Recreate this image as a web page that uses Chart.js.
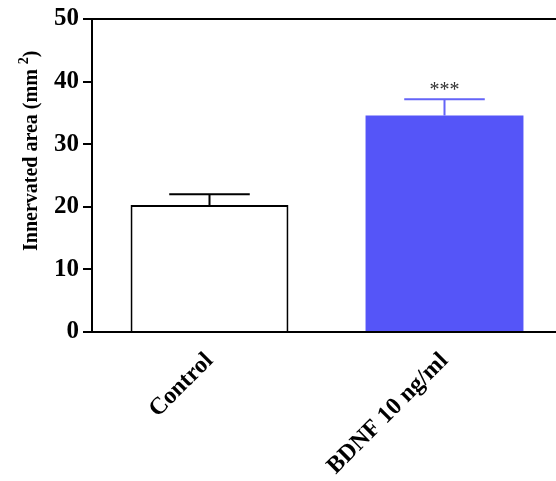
<!DOCTYPE html>
<html>
<head>
<meta charset="utf-8">
<script src="https://cdn.jsdelivr.net/npm/chart.js@4"></script>
<style>
  html, body { margin: 0; padding: 0; background: #fff; overflow: hidden; }
  #wrap { width: 570px; height: 481px; }
</style>
</head>
<body>
<div id="wrap"><canvas id="areaChart"></canvas></div>
<script>
// data
const groups = ["Control", "BDNF 10 ng/ml"];
const meanArea = [20.3, 34.6];
const semArea = [1.7, 2.6];
const marks = ["", "***"];
const yTicks = [0, 10, 20, 30, 40, 50];

const serif = "'Liberation Serif', 'Times New Roman', serif";

// error bars, top line, stars, axis title
const extras = {
  id: "extras",
  afterDatasetsDraw(chart) {
    const ctx = chart.ctx;
    const y = chart.scales.y;
    const area = chart.chartArea;
    const meta = chart.getDatasetMeta(0);
    const capColors = ["#000000", "#6464f8"];

    meta.data.forEach((bar, i) => {
      const cx = bar.x;
      const yTop = y.getPixelForValue(meanArea[i] + semArea[i]);
      const yMean = y.getPixelForValue(meanArea[i]);
      const half = bar.width * 0.255;
      ctx.save();
      ctx.strokeStyle = capColors[i];
      ctx.lineWidth = 2;
      ctx.beginPath();
      ctx.moveTo(cx, yMean);
      ctx.lineTo(cx, yTop);
      ctx.moveTo(cx - half, yTop);
      ctx.lineTo(cx + half, yTop);
      ctx.stroke();
      if (marks[i]) {
        ctx.fillStyle = "#333";
        ctx.font = "20px " + serif;
        ctx.textAlign = "center";
        ctx.textBaseline = "alphabetic";
        ctx.fillText(marks[i], cx, yTop - 3);
      }
      ctx.restore();
    });

    // top frame line
    ctx.save();
    ctx.strokeStyle = "#000";
    ctx.lineWidth = 2;
    ctx.beginPath();
    ctx.moveTo(area.left, y.getPixelForValue(50));
    ctx.lineTo(area.right, y.getPixelForValue(50));
    ctx.stroke();
    ctx.restore();

    // y title with superscript
    ctx.save();
    ctx.translate(37, 251);
    ctx.rotate(-Math.PI / 2);
    ctx.fillStyle = "#000";
    ctx.textAlign = "left";
    ctx.textBaseline = "alphabetic";
    ctx.font = "bold 20px " + serif;
    const main = "Innervated area (mm ";
    ctx.fillText(main, 0, 0);
    let w = ctx.measureText(main).width;
    ctx.font = "bold 14px " + serif;
    ctx.fillText("2", w, -9);
    w += ctx.measureText("2").width;
    ctx.font = "bold 20px " + serif;
    ctx.fillText(")", w, 0);
    ctx.restore();
  }
};

new Chart(document.getElementById("areaChart"), {
  type: "bar",
  data: {
    labels: groups,
    datasets: [{
      data: meanArea,
      backgroundColor: ["#ffffff", "#5555f8"],
      borderColor: ["#000000", "#5555f8"],
      borderWidth: [2, 0],
      borderSkipped: "bottom",
      categoryPercentage: 1,
      barPercentage: 0.672
    }]
  },
  options: {
    responsive: true,
    maintainAspectRatio: false,
    animation: false,
    layout: { padding: { left: 0, top: 18, right: 8, bottom: 0 } },
    plugins: { legend: { display: false }, tooltip: { enabled: false } },
    scales: {
      x: {
        afterFit(s) { s.height = 149; },
        grid: { display: false, drawTicks: false },
        border: { display: true, color: "#000", width: 2 },
        ticks: {
          color: "#000",
          font: { family: serif, size: 24, weight: "bold" },
          maxRotation: 45,
          minRotation: 45,
          padding: 15
        }
      },
      y: {
        min: 0,
        max: 50,
        afterFit(s) { s.width = 92; },
        afterBuildTicks(s) { s.ticks = yTicks.map(v => ({ value: v })); },
        grid: { drawOnChartArea: false, tickLength: 9, color: "#000", lineWidth: 2 },
        border: { display: true, color: "#000", width: 2 },
        ticks: {
          color: "#000",
          padding: 4,
          font: { family: serif, size: 25, weight: "bold" }
        }
      }
    }
  },
  plugins: [extras]
});
</script>
</body>
</html>
